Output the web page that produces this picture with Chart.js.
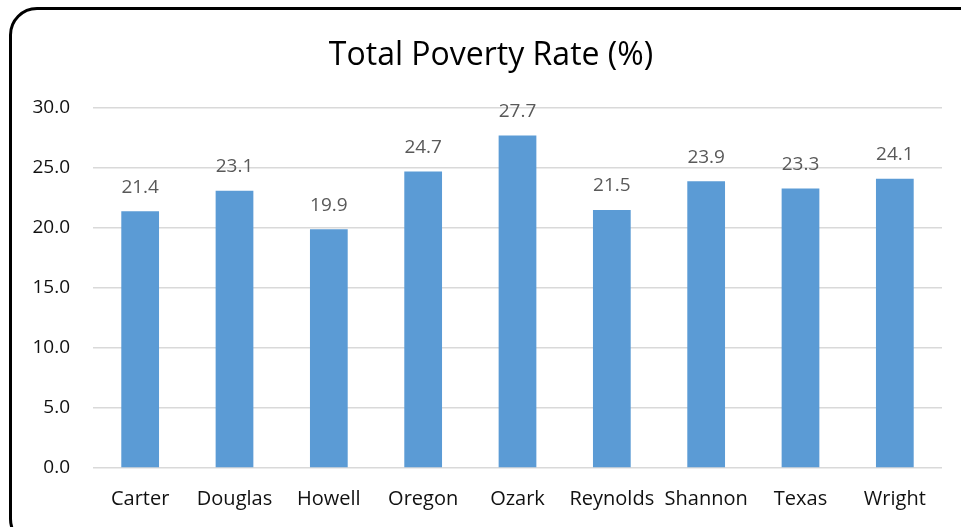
<!DOCTYPE html>
<html lang="en">
<head>
    <meta charset="UTF-8">
    <script src="https://cdn.jsdelivr.net/npm/chart.js"></script>
    <title>Total Poverty Rate</title>
    <style>
        html, body { margin: 0; padding: 0; background: #fff; overflow: hidden; }
        #wrap { position: relative; width: 961px; height: 527px; overflow: hidden; }
        #frame {
            position: absolute; left: 9px; top: 7px; width: 980px; height: 540px;
            border: 3px solid #000; border-radius: 28px; box-sizing: border-box;
        }
        #box { position: absolute; left: 0; top: 0; width: 961px; height: 527px; }
    </style>
</head>
<body>
    <div id="wrap">
        <div id="frame"></div>
        <div id="box"><canvas id="povertyChart"></canvas></div>
    </div>

    <script>
        const counties = ['Carter', 'Douglas', 'Howell', 'Oregon', 'Ozark', 'Reynolds', 'Shannon', 'Texas', 'Wright'];
        const povertyRate = [21.4, 23.1, 19.9, 24.7, 27.7, 21.5, 23.9, 23.3, 24.1];
        const yTicks = [0, 5, 10, 15, 20, 25, 30];
        const chartTitle = 'Total Poverty Rate (%)';

        const FONT = "'Open Sans', sans-serif";

        // title centred on the rounded frame, not on the canvas
        const frameTitle = {
            id: 'frameTitle',
            afterDraw(chart) {
                const ctx = chart.ctx;
                ctx.save();
                ctx.font = '32px ' + FONT;
                ctx.fillStyle = '#000';
                ctx.textAlign = 'center';
                ctx.textBaseline = 'middle';
                ctx.fillText(chartTitle, 491, 56);
                ctx.restore();
            }
        };

        // value labels drawn over each bar
        const barLabels = {
            id: 'barLabels',
            afterDatasetsDraw(chart) {
                const ctx = chart.ctx;
                const meta = chart.getDatasetMeta(0);
                ctx.save();
                ctx.font = '19px ' + FONT;
                ctx.fillStyle = '#595959';
                ctx.textAlign = 'center';
                ctx.textBaseline = 'middle';
                meta.data.forEach((bar, i) => {
                    ctx.fillText(povertyRate[i].toFixed(1), bar.x, bar.y - 24);
                });
                ctx.restore();
            }
        };

        const ctx = document.getElementById('povertyChart').getContext('2d');
        new Chart(ctx, {
            type: 'bar',
            data: {
                labels: counties,
                datasets: [{
                    data: povertyRate,
                    backgroundColor: '#5b9bd5',
                    categoryPercentage: 1,
                    barPercentage: 0.4
                }]
            },
            options: {
                responsive: true,
                maintainAspectRatio: false,
                animation: false,
                layout: { padding: { left: 0, right: 19, top: 108, bottom: 0 } },
                plugins: {
                    legend: { display: false },
                    tooltip: { enabled: false },
                    title: { display: false }
                },
                scales: {
                    x: {
                        afterFit(scale) { scale.height = 59; },
                        grid: { display: false },
                        border: { display: false },
                        ticks: { color: '#111', font: { family: FONT, size: 20 }, padding: 11, maxRotation: 0 }
                    },
                    y: {
                        min: 0,
                        max: 30,
                        afterBuildTicks(scale) { scale.ticks = yTicks.map(v => ({ value: v })); },
                        afterFit(scale) { scale.width = 93; },
                        grid: { color: '#d9d9d9', lineWidth: 1.5, drawTicks: false },
                        border: { display: false },
                        ticks: {
                            color: '#111',
                            font: { family: FONT, size: 19 },
                            padding: 23,
                            callback: v => Number(v).toFixed(1)
                        }
                    }
                }
            },
            plugins: [barLabels, frameTitle]
        });
    </script>
</body>
</html>
